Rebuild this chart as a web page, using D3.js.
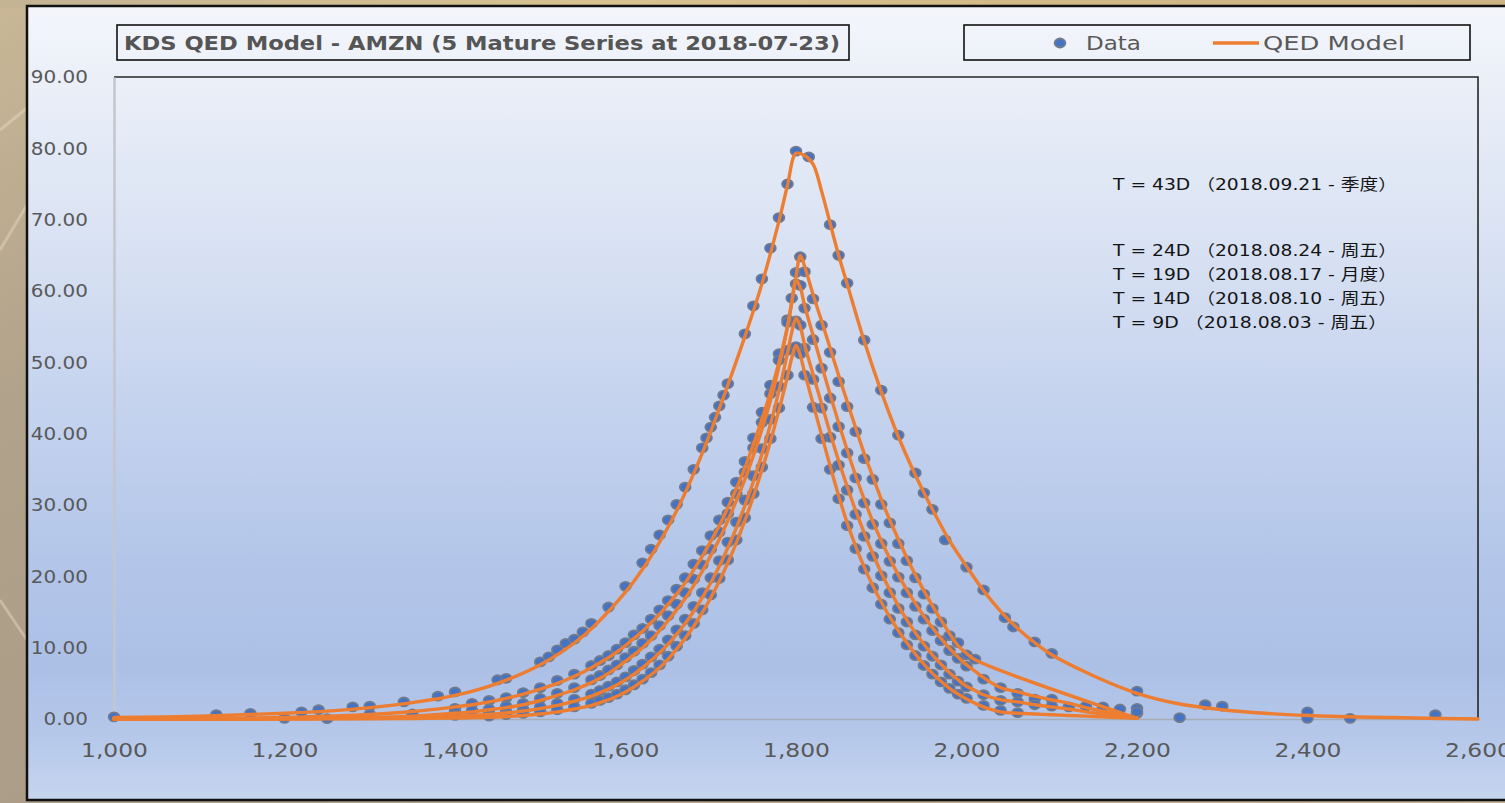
<!DOCTYPE html>
<html>
<head>
<meta charset="utf-8">
<script src="https://cdn.jsdelivr.net/npm/d3@7"></script>
<style>
  html, body { margin: 0; padding: 0; overflow: hidden; background: #bba98a; }
  svg { display: block; }
</style>
</head>
<body>
<svg id="chart" width="1505" height="803"></svg>
<script>
// ---------- chart text ----------
const titleText = "KDS QED Model - AMZN (5 Mature Series at 2018-07-23)";
const legendLabels = ["Data", "QED Model"];
const seriesNotes = [
  "T = 43D （2018.09.21 - 季度）",
  "T = 24D （2018.08.24 - 周五）",
  "T = 19D （2018.08.17 - 月度）",
  "T = 14D （2018.08.10 - 周五）",
  "T = 9D （2018.08.03 - 周五）"
];

// ---------- axis ticks ----------
const xTicks = [1000, 1200, 1400, 1600, 1800, 2000, 2200, 2400, 2600];
const yTicks = [0, 10, 20, 30, 40, 50, 60, 70, 80, 90];

// ---------- T = 43D : quotes ----------
const strikes43 = [1000,1120,1160,1220,1240,1280,1300,1340,1380,1400,
                   1450,1460,1500,1510,1520,1530,1540,1550,1560,1580,
                   1600,1620,1630,1640,1650,1660,1670,1680,1690,1695,
                   1700,1705,1710,1715,1720,1740,1750,1760,1770,1780,
                   1790,1800,1815,1840,1850,1860,1880,1900,1920,1940,
                   1950,1960,1975,2000,2020,2045,2055,2080,2100,2200,
                   2280,2300,2400,2450,2550];
const market43 = [0.3,0.6,0.8,1.0,1.3,1.7,1.8,2.4,3.2,3.8,
                  5.5,5.7,8.0,8.7,9.7,10.6,11.2,12.2,13.4,15.7,
                  18.6,21.9,23.8,25.8,27.9,30.1,32.5,35.0,38.0,39.4,
                  40.9,42.3,43.9,45.4,47.0,54.0,57.9,61.7,66.0,70.3,
                  75.0,79.6,78.8,69.3,65.0,61.1,53.1,46.1,39.8,34.5,
                  31.7,29.4,25.1,21.3,18.1,14.2,12.9,10.8,9.2,3.9,
                  2.0,1.8,1.0,0.1,0.6];
// ---------- T = 43D : model ----------
const modelStrikes43 = [1000,1100,1200,1250,1300,1350,1400,1450,1500,1550,
                        1600,1620,1640,1660,1680,1700,1720,1740,1760,1780,
                        1790,1800,1810,1820,1830,1840,1850,1860,1880,1900,
                        1920,1940,1960,1980,2000,2020,2040,2060,2080,2100,
                        2150,2200,2250,2300,2350,2400,2500,2600];
const model43 = [0.2,0.4,0.8,1.1,1.6,2.3,3.3,5.0,7.6,11.6,
                 17.8,21.0,24.8,29.2,34.4,40.3,46.8,53.6,61.0,69.8,
                 74.8,79.3,79.0,77.8,74.0,69.5,65.0,61.0,53.0,45.9,
                 39.6,34.2,29.4,25.0,21.4,18.0,15.1,12.7,10.7,9.0,
                 6.0,3.6,2.1,1.3,0.8,0.5,0.2,0.0];

// ---------- shorter expiries share one strike grid ----------
const innerStrikes = [1000,1200,1250,1300,1350,1400,1420,1440,1460,1480,
                      1500,1520,1540,1560,1570,1580,1590,1600,1610,1620,
                      1630,1640,1650,1660,1670,1680,1690,1700,1710,1720,
                      1730,1740,1750,1760,1770,1780,1790,1795,1800,1805,
                      1810,1820,1830,1840,1850,1860,1870,1880,1890,1900,
                      1910,1920,1930,1940,1950,1960,1970,1980,1990,2000,
                      2010,2020,2040,2060,2080,2100,2120,2140,2160,2180,
                      2200,2250,2400];

// T = 24D
const market24 = [null,0.1,0.05,0.7,0.7,1.5,2.2,2.6,3.0,3.7,
                  4.4,5.4,6.3,7.5,8.2,8.9,9.8,10.7,11.8,12.7,
                  14.0,15.3,16.6,18.2,19.8,21.7,23.6,25.7,27.9,30.4,
                  33.2,36.1,39.4,43.0,46.8,51.2,56.0,null,62.6,64.8,
                  62.7,58.9,55.2,51.4,47.3,43.8,40.3,36.5,33.6,30.1,
                  27.5,24.6,22.2,19.8,17.5,15.5,13.6,11.7,10.7,9.0,
                  8.4,null,null,null,null,null,null,null,null,null,
                  0.8,null,null];
const model24 = [0,0.2,0.4,0.65,1.05,1.7,2.0,2.4,2.9,3.5,
                 4.2,5.0,6.0,7.2,7.9,8.6,9.4,10.3,11.3,12.3,
                 13.5,14.7,16.1,17.5,19.1,20.9,22.8,24.9,27.1,29.6,
                 32.3,35.2,38.5,42.0,45.8,50.0,55.0,58.3,62.0,65.0,
                 63.5,59.5,55.8,52.0,48.2,44.5,40.8,37.2,34.0,30.8,
                 27.9,25.2,22.6,20.2,18.0,15.9,13.9,12.0,10.3,9.2,
                 8.3,null,null,null,null,null,null,null,null,null,
                 0.1,null,null];

// T = 19D
const market19 = [null,null,null,null,null,1.0,1.2,1.4,1.8,2.2,
                  2.9,3.6,4.4,5.5,6.1,6.9,7.6,8.6,9.5,10.6,
                  11.7,13.1,14.5,16.1,17.7,19.6,21.6,23.8,26.2,28.8,
                  31.6,34.6,38.0,41.6,45.6,50.3,55.6,59.0,61.0,60.8,
                  57.6,53.2,49.2,45.0,41.0,37.3,33.8,30.3,27.3,24.6,
                  22.1,19.9,17.7,15.8,14.0,12.4,11.0,9.6,8.5,7.4,
                  null,5.6,4.4,3.6,2.8,2.8,1.7,1.8,1.7,1.4,
                  1.5,0.2,0.1];
const model19 = [0,0.05,0.1,0.2,0.4,0.8,1.0,1.3,1.6,2.0,
                 2.6,3.3,4.1,5.1,5.7,6.4,7.2,8.1,9.0,10.0,
                 11.1,12.4,13.8,15.3,16.9,18.7,20.7,22.9,25.2,27.8,
                 30.6,33.6,36.9,40.6,44.6,49.4,55.0,58.5,61.5,60.5,
                 58.0,53.8,49.6,45.5,41.5,37.7,34.1,30.8,27.7,25.0,
                 22.5,20.2,18.1,16.2,14.4,12.8,11.3,9.9,8.7,7.6,
                 6.7,5.8,4.4,3.8,3.2,2.7,2.2,1.6,1.1,0.6,
                 0.1,null,null];

// T = 14D
const market14 = [null,null,null,null,null,0.5,null,0.8,1.0,1.3,
                  1.7,2.2,2.8,3.5,4.0,4.6,5.2,5.9,6.8,7.7,
                  8.7,9.8,11.1,12.5,14.0,15.8,17.7,19.8,22.2,24.8,
                  27.6,30.7,34.1,37.9,42.0,46.6,51.7,null,55.8,55.2,
                  52.0,47.6,43.6,39.5,35.6,32.1,28.7,25.6,22.8,20.1,
                  17.7,15.5,13.6,11.8,10.2,8.8,7.6,6.3,5.3,4.5,
                  null,3.4,2.6,2.4,2.0,1.8,null,null,null,null,
                  1.0,null,null];
const model14 = [0,0.02,0.05,0.1,0.2,0.4,0.5,0.65,0.85,1.1,
                 1.45,1.9,2.5,3.2,3.7,4.2,4.8,5.5,6.3,7.2,
                 8.2,9.3,10.5,11.9,13.4,15.1,17.0,19.1,21.4,24.0,
                 26.8,29.9,33.3,37.1,41.3,46.0,51.3,54.2,56.2,55.0,
                 52.5,48.3,44.2,40.1,36.2,32.6,29.2,26.1,23.2,20.5,
                 18.1,15.9,13.9,12.1,10.5,9.0,7.7,6.5,5.5,4.6,
                 4.0,3.4,2.7,2.4,2.0,1.7,1.4,1.0,0.7,0.4,
                 0.1,null,null];

// T = 9D
const market9 = [null,null,null,null,null,null,null,0.4,0.6,0.8,
                 1.0,1.3,1.7,2.2,2.6,3.0,3.5,4.1,4.8,5.6,
                 6.5,7.6,8.8,10.2,11.7,13.4,15.3,17.4,19.7,22.3,
                 25.1,28.2,31.6,35.3,39.3,43.6,48.2,null,52.2,51.2,
                 48.2,43.7,39.3,35.0,30.9,27.1,23.9,21.0,18.4,16.1,
                 14.0,12.1,10.4,8.9,7.5,6.3,5.2,4.3,3.5,2.9,
                 null,1.9,1.2,0.9,null,null,null,null,null,null,
                 null,null,null];
const model9 = [0,0.01,0.02,0.04,0.08,0.15,0.2,0.25,0.35,0.5,
                0.7,1.0,1.4,1.9,2.3,2.7,3.2,3.8,4.5,5.3,
                6.2,7.2,8.4,9.8,11.3,13.0,14.9,17.0,19.3,21.9,
                24.7,27.8,31.2,34.9,38.9,43.3,48.0,50.6,52.4,51.0,
                48.6,44.2,39.8,35.5,31.3,27.5,24.2,21.3,18.7,16.4,
                14.3,12.4,10.7,9.1,7.7,6.4,5.3,4.3,3.5,2.8,
                2.2,1.7,1.0,0.8,0.7,0.6,0.5,0.4,0.3,0.2,
                0.1,null,null];

// ---------- assemble (strike, value) pairs ----------
function pairs(strikes, values) {
  return strikes.map((k, i) => ({ k, v: values[i] })).filter(d => d.v != null);
}
const quoteSets = [
  pairs(strikes43, market43),
  pairs(innerStrikes, market24),
  pairs(innerStrikes, market19),
  pairs(innerStrikes, market14),
  pairs(innerStrikes, market9)
];
const modelSets = [
  pairs(modelStrikes43, model43),
  pairs(innerStrikes, model24),
  pairs(innerStrikes, model19),
  pairs(innerStrikes, model14),
  pairs(innerStrikes, model9)
];

// ---------- drawing ----------
const W = 1505, H = 803;
const svg = d3.select("#chart");
const defs = svg.append("defs");

const ORANGE = "#ed7d31";
const DOT = "#4472c4";
const DOT_RIM = "#727c8c";
const AXIS_TEXT = "#595959";
const FONT = "'DejaVu Sans', 'Noto Sans CJK SC', sans-serif";

// backdrop behind the chart area
const bd = defs.append("linearGradient").attr("id", "backdrop")
  .attr("x1", 0).attr("y1", 0).attr("x2", 1).attr("y2", 1);
[["0%", "#c9b796"], ["25%", "#b1a28b"], ["60%", "#a99b86"], ["100%", "#c2b08e"]]
  .forEach(([o, c]) => bd.append("stop").attr("offset", o).attr("stop-color", c));
svg.append("rect").attr("width", W).attr("height", H).attr("fill", "url(#backdrop)");
const topBand = defs.append("linearGradient").attr("id", "topBand")
  .attr("x1", 0).attr("y1", 0).attr("x2", 1).attr("y2", 0);
[["0%", "#c3b393"], ["40%", "#d8c290"], ["70%", "#d2b986"], ["100%", "#cdb283"]]
  .forEach(([o, c]) => topBand.append("stop").attr("offset", o).attr("stop-color", c));
svg.append("rect").attr("x", 0).attr("y", 0).attr("width", W).attr("height", 8).attr("fill", "url(#topBand)");
// soft streaks in the backdrop
[[0, 130, 27, 108], [0, 600, 27, 640], [0, 250, 27, 205]].forEach(([x1, y1, x2, y2]) =>
  svg.append("line").attr("x1", x1).attr("y1", y1).attr("x2", x2).attr("y2", y2)
    .attr("stroke", "#e8dcc6").attr("stroke-opacity", 0.45).attr("stroke-width", 3));

// chart area with vertical gradient
const ag = defs.append("linearGradient").attr("id", "areaFill")
  .attr("x1", 0).attr("y1", 0).attr("x2", 0).attr("y2", 1);
[["0%", "#f4f6fb"], ["10%", "#eaeff8"], ["30%", "#d9e2f3"], ["50%", "#c5d3ee"],
 ["70%", "#b3c6e9"], ["83%", "#acc0e6"], ["92%", "#b5c8ea"], ["100%", "#c6d5ef"]]
  .forEach(([o, c]) => ag.append("stop").attr("offset", o).attr("stop-color", c));
svg.append("rect").attr("x", 27).attr("y", 6).attr("width", 1520).attr("height", 794)
  .attr("fill", "url(#areaFill)").attr("stroke", "#111").attr("stroke-width", 2.5);

// scales
const x = d3.scaleLinear().domain([1000, 2600]).range([114, 1478]);
const y = d3.scaleLinear().domain([0, 90]).range([719, 77]);

// plot frame: dark top and right edges
svg.append("path")
  .attr("d", `M${x(1000)},${y(90)}H${x(2600)}V${y(0)}`)
  .attr("fill", "none").attr("stroke", "#262626").attr("stroke-width", 1.6);

// x axis
const xSX = 1.17;
const gx = svg.append("g").attr("transform", `translate(0,${y(0)})`)
  .call(d3.axisBottom(x).tickValues(xTicks).tickFormat(d3.format(",")).tickSize(0).tickSizeOuter(0));
gx.select(".domain").attr("stroke", "#a8acb4").attr("stroke-width", 1.5);
gx.selectAll("text").attr("y", 38).attr("dy", null)
  .attr("transform", `scale(${xSX},1)`)
  .attr("fill", AXIS_TEXT).style("font", `20px ${FONT}`);

// y axis
const ySX = 1.11;
const gy = svg.append("g").attr("transform", `translate(${x(1000)},0)`)
  .call(d3.axisLeft(y).tickValues(yTicks).tickFormat(d3.format(".2f")).tickSize(0).tickSizeOuter(0));
gy.select(".domain").attr("stroke", "#c3c6cc").attr("stroke-width", 2.5);
gy.selectAll("text").attr("x", -26 / ySX).attr("dy", "0.33em")
  .attr("transform", `scale(${ySX},1)`)
  .attr("fill", AXIS_TEXT).style("font", `18px ${FONT}`);

// quotes (markers)
const dotLayer = svg.append("g");
quoteSets.forEach(set => {
  dotLayer.selectAll(null).data(set).join("ellipse")
    .attr("cx", d => x(d.k)).attr("cy", d => y(d.v))
    .attr("rx", 5.4).attr("ry", 4.5)
    .attr("fill", DOT).attr("stroke", DOT_RIM).attr("stroke-width", 1.8);
});

// model curves
const line = d3.line().x(d => x(d.k)).y(d => y(d.v)).curve(d3.curveCatmullRom.alpha(0.5));
const lineLayer = svg.append("g");
modelSets.forEach(set => {
  lineLayer.append("path").attr("d", line(set))
    .attr("fill", "none").attr("stroke", ORANGE).attr("stroke-width", 3.4)
    .attr("stroke-linejoin", "round").attr("stroke-linecap", "round");
});

// title box
svg.append("rect").attr("x", 117).attr("y", 25).attr("width", 732).attr("height", 35)
  .attr("fill", "none").attr("stroke", "#111").attr("stroke-width", 1.6);
svg.append("text").attr("x", 124).attr("y", 50)
  .attr("textLength", 716).attr("lengthAdjust", "spacingAndGlyphs")
  .attr("fill", "#555").style("font", `bold 20px ${FONT}`)
  .text(titleText);

// legend box
svg.append("rect").attr("x", 964).attr("y", 25).attr("width", 506).attr("height", 35)
  .attr("fill", "none").attr("stroke", "#111").attr("stroke-width", 1.6);
svg.append("ellipse").attr("cx", 1060).attr("cy", 43).attr("rx", 5.4).attr("ry", 4.5)
  .attr("fill", DOT).attr("stroke", DOT_RIM).attr("stroke-width", 1.8);
svg.append("text").attr("x", 1086).attr("y", 50)
  .attr("textLength", 55).attr("lengthAdjust", "spacingAndGlyphs")
  .attr("fill", AXIS_TEXT).style("font", `20px ${FONT}`).text(legendLabels[0]);
svg.append("line").attr("x1", 1213).attr("x2", 1259).attr("y1", 43).attr("y2", 43)
  .attr("stroke", ORANGE).attr("stroke-width", 3.4);
svg.append("text").attr("x", 1263).attr("y", 50)
  .attr("textLength", 142).attr("lengthAdjust", "spacingAndGlyphs")
  .attr("fill", AXIS_TEXT).style("font", `20px ${FONT}`).text(legendLabels[1]);

// expiry notes
const noteY = [190, 256, 280, 304, 328];
const noteW = [284, 284, 284, 284, 274];
seriesNotes.forEach((t, i) => {
  svg.append("text").attr("x", 1113).attr("y", noteY[i])
    .attr("textLength", noteW[i]).attr("lengthAdjust", "spacingAndGlyphs")
    .attr("fill", "#141414").style("font", `15.5px ${FONT}`).text(t);
});
</script>
</body>
</html>
